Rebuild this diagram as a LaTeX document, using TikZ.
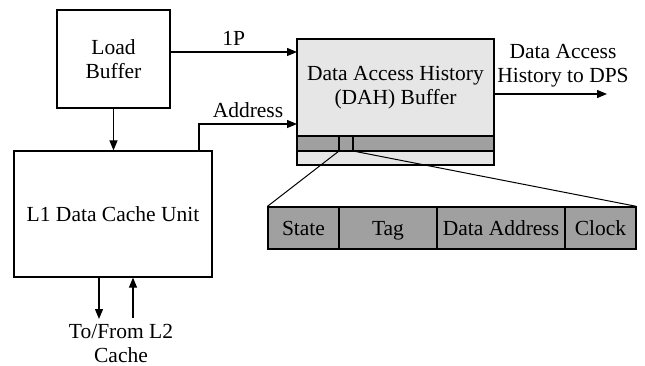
\documentclass[tikz,border=0pt]{standalone}
\usepackage{fontspec}
\setmainfont{Liberation Serif}
\usetikzlibrary{arrows.meta}
\definecolor{panel}{HTML}{E6E6E6}
\definecolor{field}{HTML}{A0A0A0}
\begin{document}
\begin{tikzpicture}[x=1pt,y=-1pt,
  every node/.style={font=\fontsize{21.5}{24}\selectfont, inner sep=0pt},
  box/.style={draw, line width=1.2pt},
  wire/.style={line width=1.2pt, -{Triangle[length=10pt,width=8pt]}},
  thin/.style={line width=1pt},
  fieldbox/.style={box, fill=field, minimum height=42pt, text height=14pt, text depth=0pt}]
\useasboundingbox (0,0) rectangle (645,366);
% functional blocks
\node[box, minimum width=113pt, minimum height=98pt, align=center] (lb) at (113.5,59) {Load\\Buffer};
\node[box, minimum width=198pt, minimum height=126pt] (l1) at (113,214) {L1 Data Cache Unit};
% history buffer with its two entry bands
\draw[box, fill=panel] (297,39) rectangle (494,165);
\draw[line width=1.2pt, fill=field] (297,136) rectangle (494,151);
\draw[line width=1.2pt] (339,136) rectangle (353,151);
\node[minimum width=197pt, minimum height=97pt, align=center] (dah) at (395.5,88) {Data Access History\\(DAH) Buffer};
\coordinate (cellL) at (339,151);
\coordinate (cellR) at (353,151);
% expanded entry fields
\node[fieldbox, minimum width=71pt] (st) at (303.5,228) {State};
\node[fieldbox, minimum width=98pt] (tag) at (388,228) {Tag};
\node[fieldbox, minimum width=128pt] (da) at (501,228) {Data Address};
\node[fieldbox, minimum width=71pt] (ck) at (600.5,228) {Clock};
\draw[thin] (cellL) -- (st.north west);
\draw[thin] (cellR) -- (ck.north east);
% connections
\coordinate (dahA) at (297,52);
\coordinate (dahB) at (297,124);
\coordinate (out) at (607,94);
\draw[wire] (lb.east |- dahA) -- node[above=6pt] {1P} (dahA);
\draw[wire] (lb.south) -- (l1.north -| lb.south);
\draw[wire] (199,151) |- node[pos=0.75, above=6pt] {Address} (dahB);
\draw[wire] (494,94) -- (out);
\node[align=center] (dps) at (563,66) {Data Access\\History to DPS};
% L2 side
\coordinate (dn) at (99,319);
\coordinate (up) at (133,318);
\draw[wire] (l1.south -| dn) -- (dn);
\draw[wire] (up) -- (l1.south -| up);
\node[align=center] (l2) at (121,343) {To/From L2\\Cache};
\end{tikzpicture}
\end{document}
